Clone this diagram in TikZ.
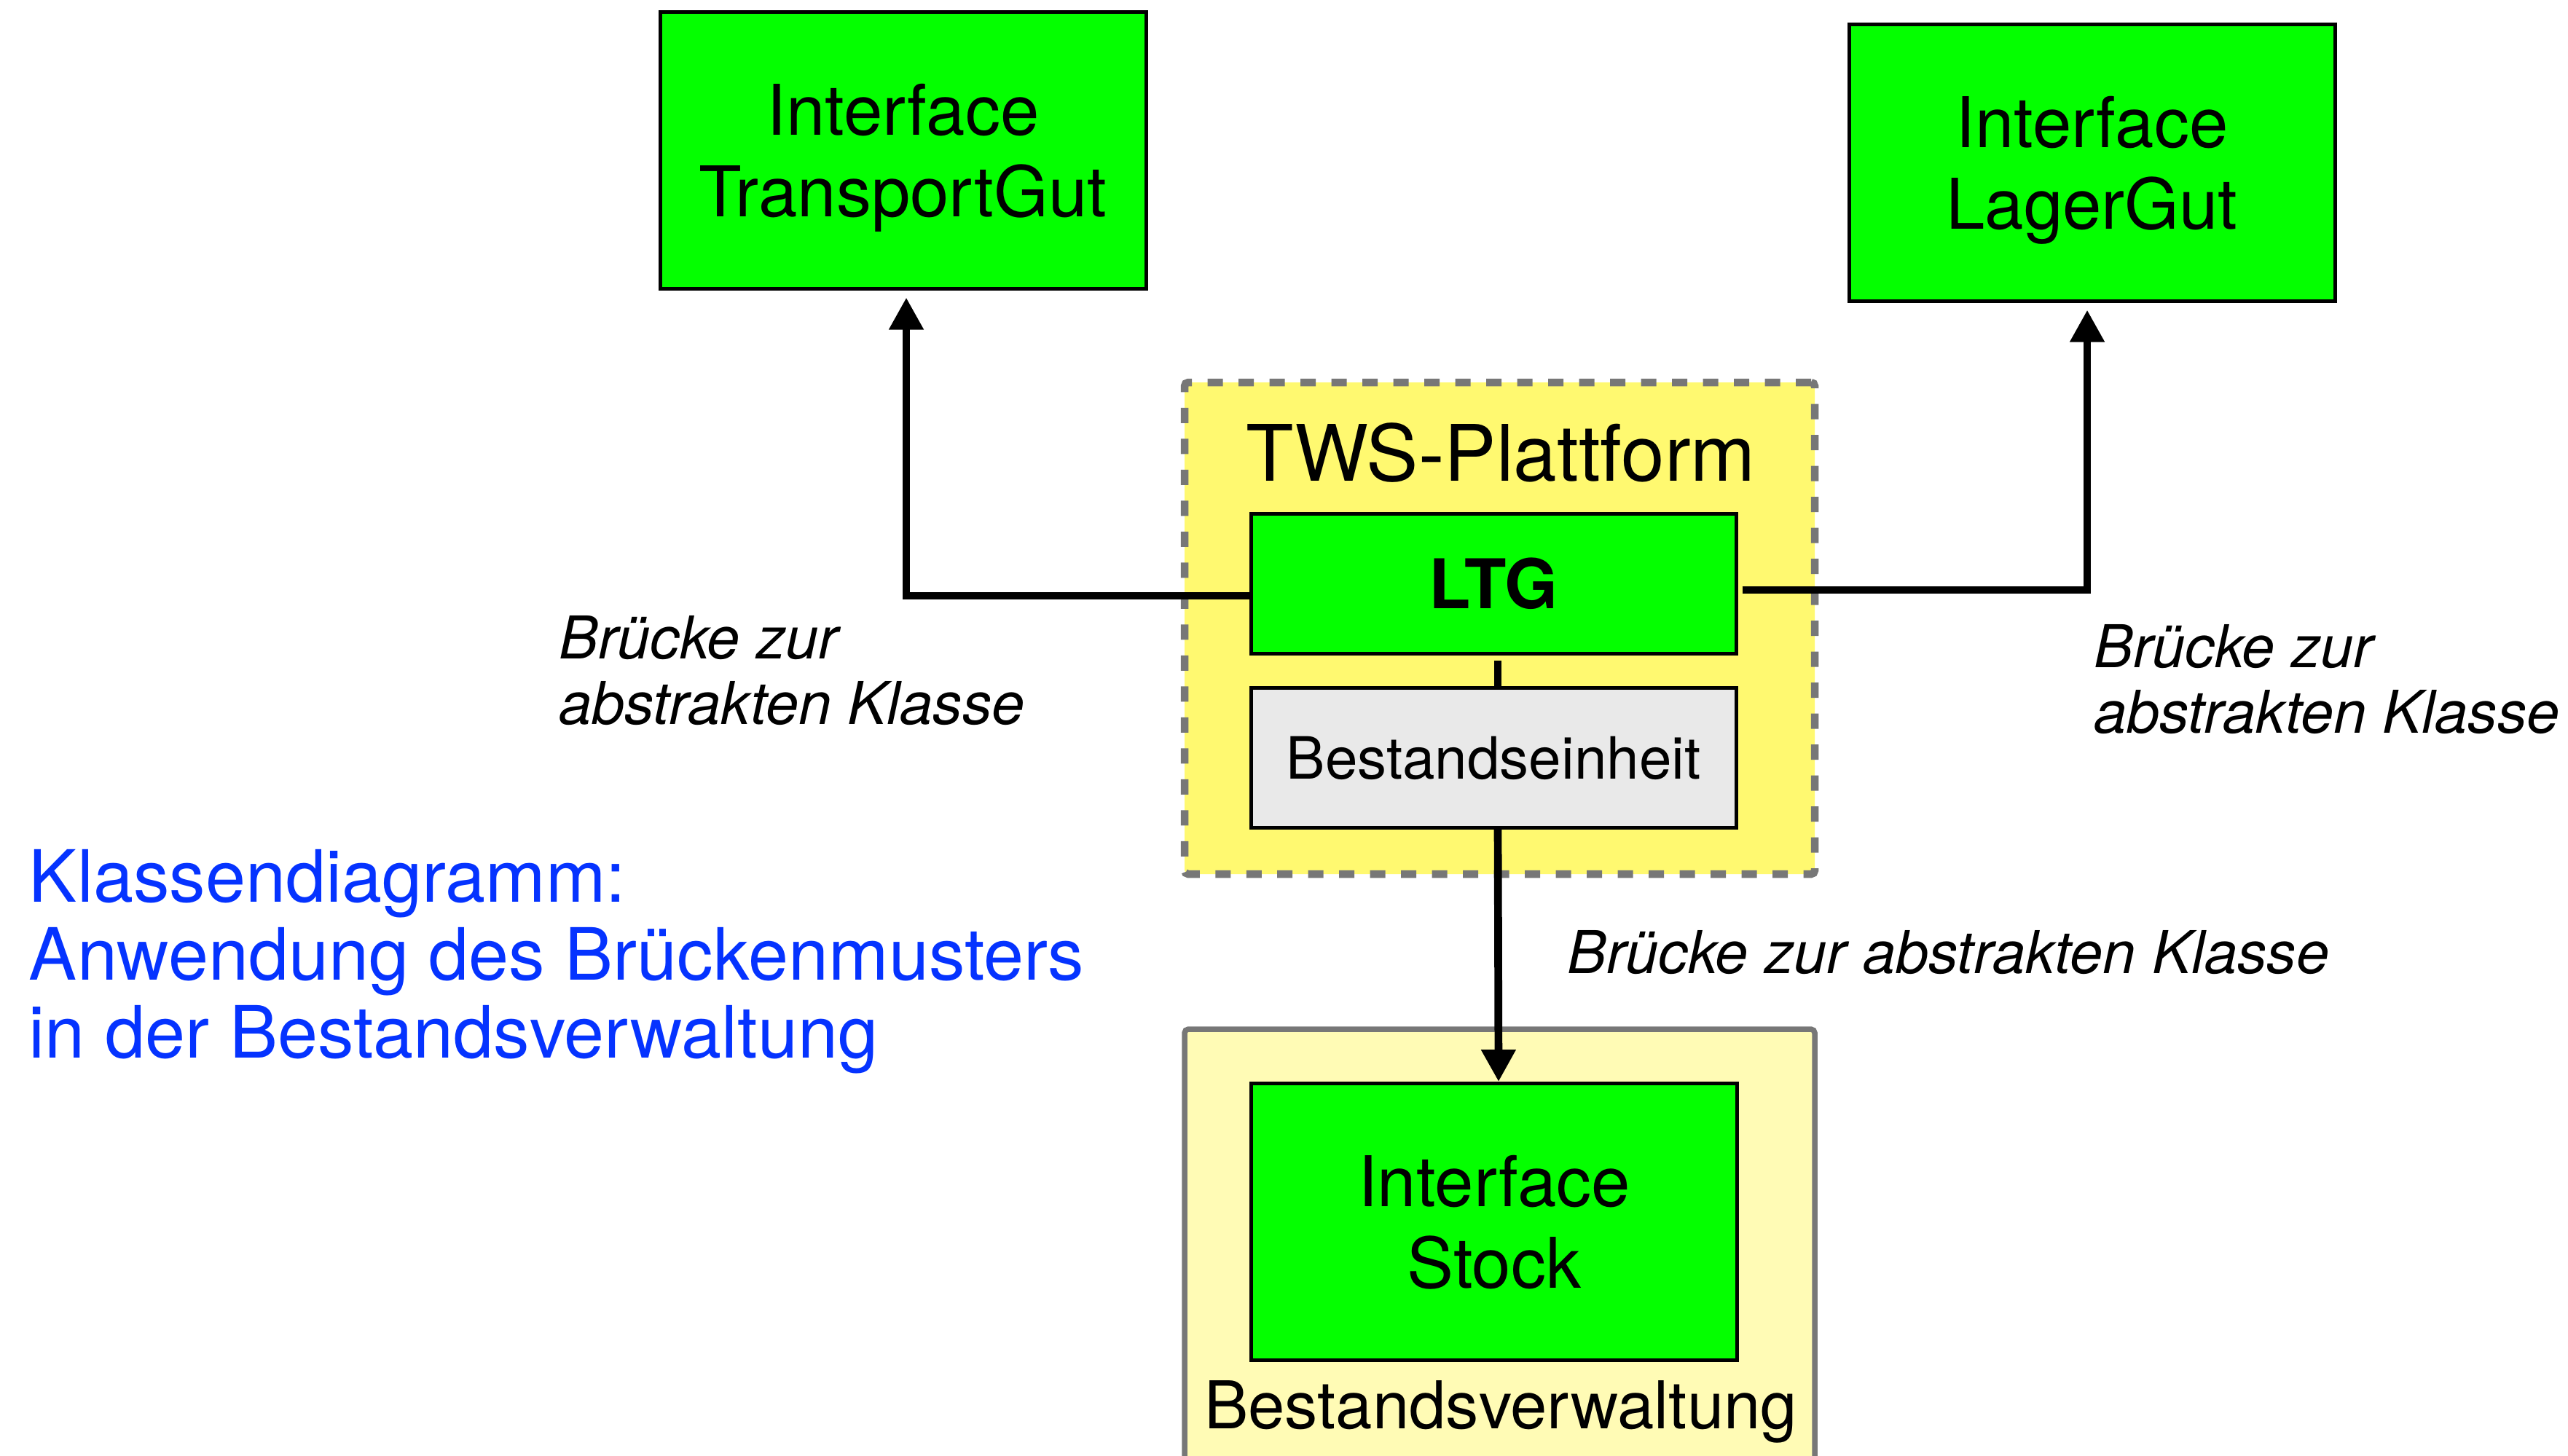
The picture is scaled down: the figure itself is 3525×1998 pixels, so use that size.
\documentclass[tikz,border=0pt]{standalone}
\usepackage{fontspec}
\setmainfont{TeX Gyre Heros}
\usetikzlibrary{arrows.meta}
\definecolor{boxgreen}{RGB}{4,255,0}
\definecolor{twsyellow}{RGB}{255,249,112}
\definecolor{bvyellow}{RGB}{255,251,181}
\definecolor{framegray}{RGB}{119,119,119}
\definecolor{begray}{RGB}{233,233,233}
\definecolor{titleblue}{RGB}{5,51,255}
\begin{document}
\begin{tikzpicture}[x=0.1pt,y=-0.1pt,
  classbox/.style={draw=black, line width=0.5pt, fill=boxgreen, minimum width=66.7pt, minimum height=38pt, align=center, inner sep=0pt, text depth=0pt, font=\fontsize{9.6}{11.2}\selectfont},
  flatbox/.style={draw=black, line width=0.5pt, minimum width=66.6pt, minimum height=19.2pt, inner sep=0pt},
  conn/.style={line width=1.07pt, -{Triangle[width=4.5pt,length=4.4pt]}},
  plainconn/.style={line width=1.07pt},
  lbl/.style={align=left, inner sep=0pt, font=\fontsize{8.1}{9}\selectfont\itshape},
]
\useasboundingbox (0,0) rectangle (3525,1998);

% containers
\node[draw=framegray, line width=1.05pt, dash pattern=on 2.1pt off 2.15pt, fill=twsyellow, rounded corners=0.5pt, minimum width=86.5pt, minimum height=67.5pt, inner sep=0pt] (tws) at (2058.5,862.5) {};
\node[draw=framegray, line width=0.75pt, fill=bvyellow, rounded corners=0.5pt, minimum width=86.5pt, minimum height=70pt, inner sep=0pt] (bv) at (2058.5,1763) {};
\node[anchor=base, inner sep=0pt, font=\fontsize{10.7}{12}\selectfont] (twstitle) at (2060,660) {TWS-Plattform};
\node[anchor=base, inner sep=0pt, font=\fontsize{9.05}{10.8}\selectfont] (bvtitle) at (2060,1961) {Bestandsverwaltung};

% classes
\node[classbox] (tg) at (1239.5,206) {Interface\\TransportGut};
\node[classbox] (lg) at (2871.5,223) {Interface\\LagerGut};
\node[classbox] (stock) at (2051,1677.5) {Interface\\Stock};
\node[flatbox, fill=boxgreen, font=\fontsize{9.4}{11}\selectfont\bfseries] (ltg) at (2050,801.5) {LTG};
\node[flatbox, fill=begray, font=\fontsize{8}{9.6}\selectfont] (be) at (2050,1040.5) {Bestandseinheit};

% connectors
\draw[conn, shorten >=1pt] ([yshift=-1.65pt]ltg.west) -| ([xshift=0.45pt]tg.south);
\draw[conn, shorten >=1pt, shorten <=0.6pt] ([yshift=-0.85pt]ltg.east) -| ([xshift=-0.65pt]lg.south);
\draw[plainconn, shorten <=0.7pt] ([xshift=0.6pt]ltg.south) -- ([xshift=0.6pt]be.north);
\draw[conn] ([xshift=0.6pt]be.south) -- ([xshift=0.6pt]stock.north);

% labels (base anchor = baseline of last line)
\node[lbl, anchor=base west] (lblleft) at (765,994) {Brücke zur\\abstrakten Klasse};
\node[lbl, anchor=base west] (lblright) at (2872,1006) {Brücke zur\\abstrakten Klasse};
\node[lbl, anchor=base west] (lblbottom) at (2149,1336) {Brücke zur abstrakten Klasse};
\node[anchor=base west, align=left, inner sep=0pt, text=titleblue, font=\fontsize{9.9}{10.7}\selectfont] (caption) at (38,1452) {Klassendiagramm:\\Anwendung des Brückenmusters\\in der Bestandsverwaltung};
\end{tikzpicture}
\end{document}
